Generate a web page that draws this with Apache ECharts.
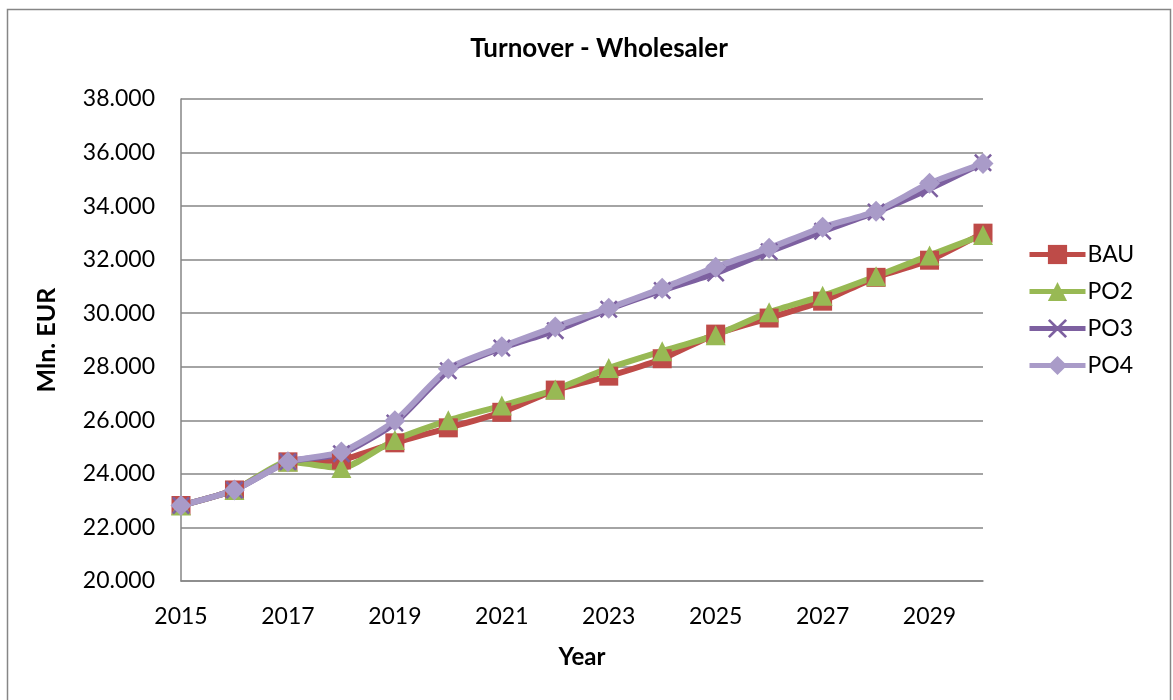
<!DOCTYPE html>
<html>
<head>
<meta charset="utf-8">
<script src="https://cdn.jsdelivr.net/npm/echarts@6/dist/echarts.min.js"></script>
<style>
  html, body { margin: 0; padding: 0; background: #fff; }
  #chart { width: 1173px; height: 700px; }
</style>
</head>
<body>
<div id="chart"></div>
<script>
// Turnover of the wholesaler per policy option, Mln. EUR
const years = ['2015','2016','2017','2018','2019','2020','2021','2022','2023','2024','2025','2026','2027','2028','2029','2030'];
const bau = [22820, 23400, 24450, 24520, 25160, 25720, 26300, 27130, 27650, 28300, 29220, 29820, 30450, 31340, 31980, 32990];
const po2 = [22820, 23400, 24450, 24220, 25270, 26000, 26550, 27150, 27950, 28580, 29180, 30040, 30650, 31380, 32160, 32920];
const po3 = [22820, 23400, 24450, 24750, 25900, 27850, 28700, 29350, 30150, 30850, 31500, 32300, 33060, 33780, 34650, 35620];
const po4 = [22820, 23400, 24450, 24820, 25980, 27930, 28750, 29490, 30190, 30930, 31720, 32430, 33210, 33810, 34850, 35590];

const FONT = 'Lato, "Open Sans", sans-serif';
const crossPath = 'path://M0,1L1,0L5,4L9,0L10,1L6,5L10,9L9,10L5,6L1,10L0,9L4,5Z';

function lineSeries(name, data, color, symbol, size) {
  return {
    name: name,
    type: 'line',
    data: data,
    smooth: 0.2,
    symbol: symbol,
    symbolSize: size,
    showAllSymbol: true,
    lineStyle: { color: color, width: 6 },
    itemStyle: { color: color },
    emphasis: { disabled: true }
  };
}

const chart = echarts.init(document.getElementById('chart'));
chart.setOption({
  animation: false,
  backgroundColor: '#ffffff',
  graphic: [{
    type: 'rect',
    shape: { x: 7.5, y: 9.5, width: 1163, height: 700 },
    style: { fill: 'none', stroke: '#868686', lineWidth: 1.5 },
    silent: true
  }],
  title: {
    text: 'Turnover - Wholesaler',
    left: 594,
    textAlign: 'center',
    top: 31,
    textStyle: { fontFamily: FONT, fontSize: 26, fontWeight: 'bold', color: '#000' }
  },
  legend: {
    orient: 'vertical',
    left: 1022,
    top: 238,
    itemWidth: 56,
    itemHeight: 24,
    itemGap: 14,
    data: ['BAU', 'PO2', 'PO3', 'PO4'],
    lineStyle: { width: 5 },
    textStyle: { fontFamily: FONT, fontSize: 23, color: '#000', padding: [0, 0, 0, -3] }
  },
  grid: { left: 181, right: 190, top: 99, bottom: 119, containLabel: false },
  xAxis: {
    type: 'category',
    data: years,
    boundaryGap: false,
    name: 'Year',
    nameLocation: 'middle',
    nameGap: 64,
    nameTextStyle: { fontFamily: FONT, fontSize: 24, fontWeight: 'bold', color: '#000' },
    axisLine: { lineStyle: { color: '#868686', width: 1.5 } },
    axisTick: { show: false },
    axisLabel: { interval: 1, margin: 24, fontFamily: FONT, fontSize: 23, color: '#000' },
    splitLine: { show: false }
  },
  yAxis: {
    type: 'value',
    min: 20000,
    max: 38000,
    interval: 2000,
    name: 'Mln. EUR',
    nameLocation: 'middle',
    nameGap: 122,
    nameRotate: 90,
    nameTextStyle: { fontFamily: FONT, fontSize: 25, fontWeight: 'bold', color: '#000' },
    axisLine: { show: true, lineStyle: { color: '#868686', width: 1.5 } },
    axisTick: { show: false },
    axisLabel: {
      margin: 26,
      fontFamily: FONT,
      fontSize: 23,
      color: '#000',
      formatter: v => (v / 1000).toFixed(3)
    },
    splitLine: { show: true, lineStyle: { color: '#868686', width: 1.5 } }
  },
  series: [
    lineSeries('BAU', bau, '#BE4B48', 'rect', 19),
    lineSeries('PO2', po2, '#98B954', 'triangle', 20),
    lineSeries('PO3', po3, '#7D60A0', crossPath, 18),
    lineSeries('PO4', po4, '#A99BC8', 'diamond', 21)
  ]
});
</script>
</body>
</html>
